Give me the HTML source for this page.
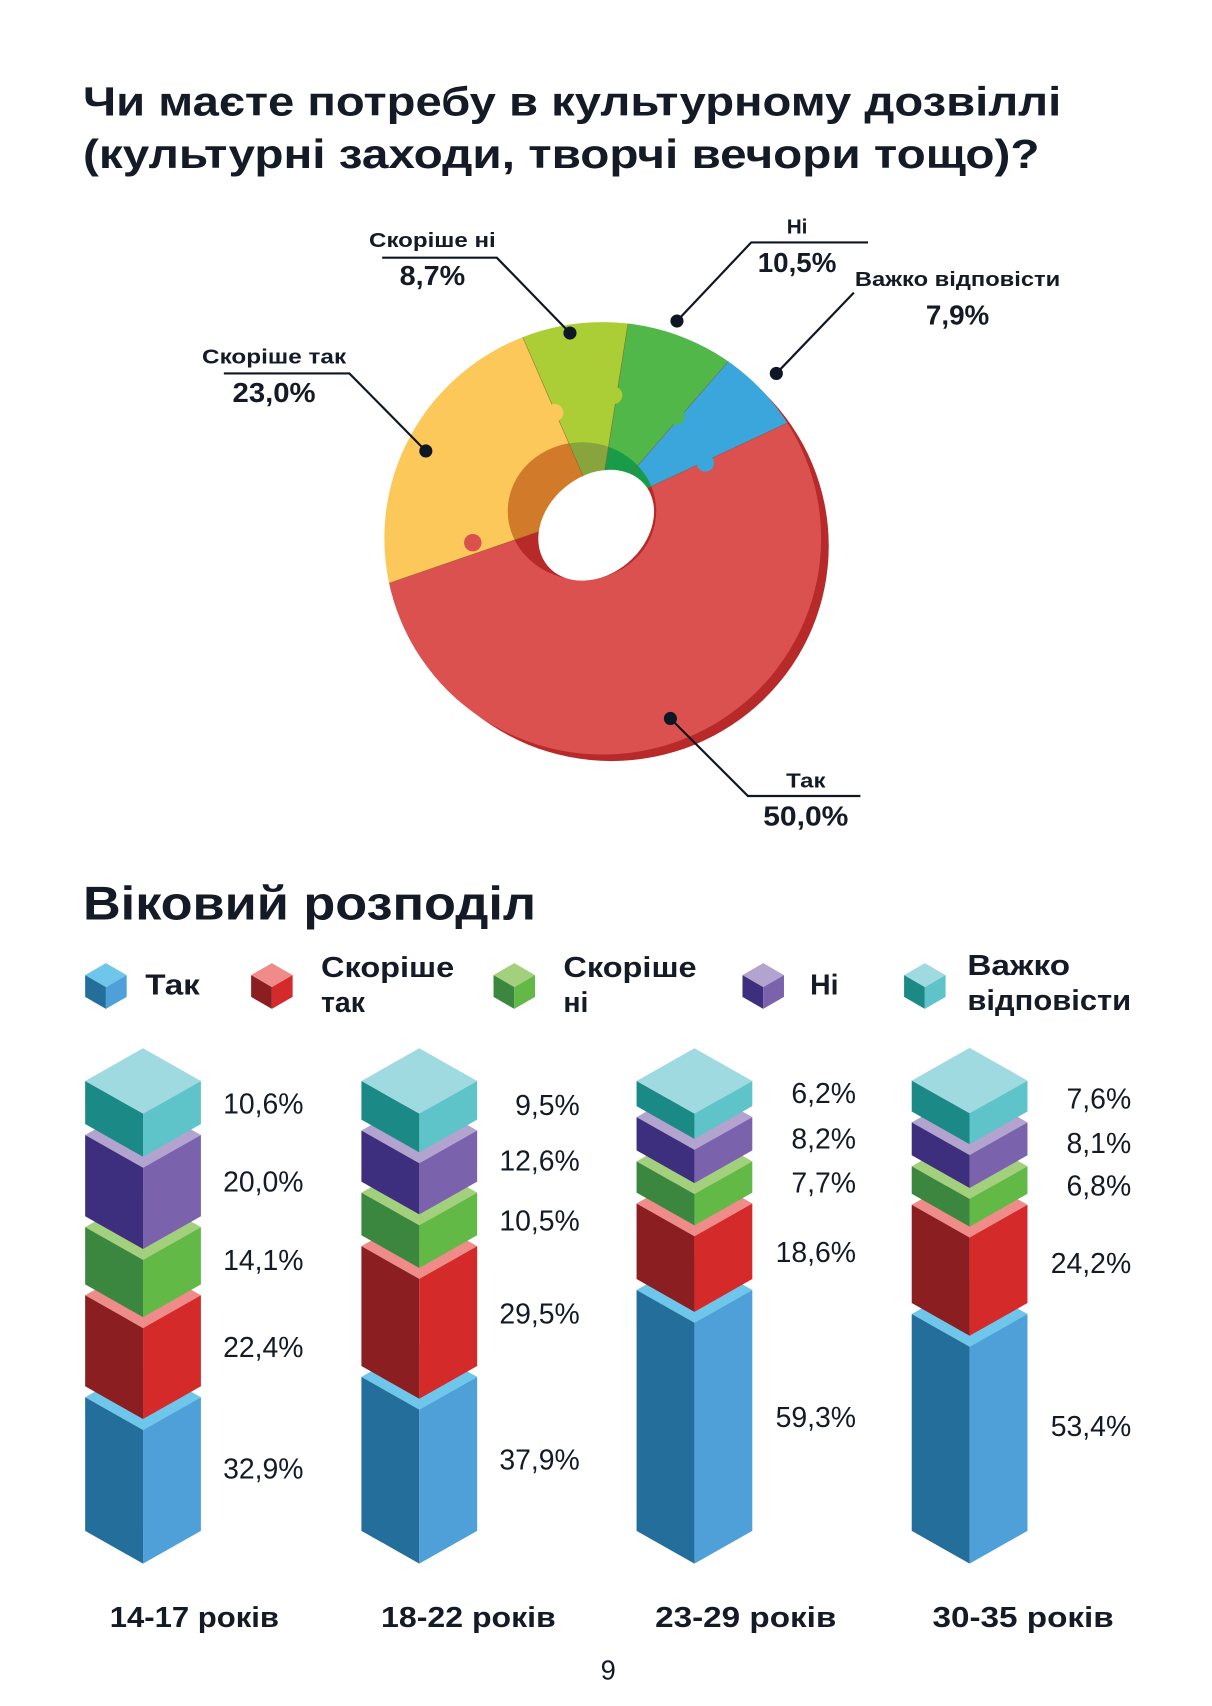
<!DOCTYPE html>
<html><head><meta charset="utf-8">
<style>
html,body{margin:0;padding:0;background:#fff;}
svg{display:block;}
.t{font-family:"Liberation Sans","DejaVu Sans",sans-serif;fill:#141a26;}
.b{font-weight:bold;}
.pl{font-size:26px;text-anchor:end;}
</style></head>
<body>
<svg id="s" width="1212" height="1706" viewBox="0 0 1110 1562.4" xmlns="http://www.w3.org/2000/svg">
<rect width="1110" height="1563" fill="#fff"/>
<text class="t b" x="76" y="106" font-size="37" textLength="896" lengthAdjust="spacingAndGlyphs">Чи маєте потребу в культурному дозвіллі</text>
<text class="t b" x="76" y="154" font-size="37" textLength="876" lengthAdjust="spacingAndGlyphs">(культурні заходи, творчі вечори тощо)?</text>

<defs>
<clipPath id="outer"><ellipse cx="552" cy="493" rx="200" ry="198"/></clipPath>
<clipPath id="wall"><ellipse cx="533" cy="468" rx="68" ry="63"/></clipPath>
</defs>
<ellipse cx="560" cy="500" rx="199" ry="197" fill="#b8292a"/>
<g clip-path="url(#outer)" id="pie"></g>
<g clip-path="url(#wall)" id="wallg"></g>
<ellipse cx="546" cy="481" rx="58" ry="45" transform="rotate(-40 546 481)" fill="#fff"/>
<g fill="#0f1624">
<circle cx="522" cy="305" r="6"/><circle cx="620" cy="294" r="6"/><circle cx="711" cy="342" r="6"/><circle cx="390" cy="413" r="6"/><circle cx="614" cy="658" r="6"/>
</g>
<g stroke="#0f1624" stroke-width="2" fill="none">
<polyline points="350,236 455,236 522,305"/>
<polyline points="795,222 688,222 620,294"/>
<polyline points="782,268 711,342"/>
<polyline points="205,342 320,342 390,413"/>
<polyline points="614,658 685,729 788,729"/>
</g>
<g class="t b" text-anchor="middle">
<text x="396" y="226" font-size="19" textLength="116" lengthAdjust="spacingAndGlyphs">Скоріше ні</text><text x="396" y="261" font-size="25" textLength="60" lengthAdjust="spacingAndGlyphs">8,7%</text>
<text x="730" y="214" font-size="19">Ні</text><text x="730" y="249" font-size="25" textLength="72" lengthAdjust="spacingAndGlyphs">10,5%</text>
<text x="877" y="262" font-size="19" textLength="188" lengthAdjust="spacingAndGlyphs">Важко відповісти</text><text x="877" y="297" font-size="25" textLength="58" lengthAdjust="spacingAndGlyphs">7,9%</text>
<text x="251" y="333" font-size="19" textLength="132" lengthAdjust="spacingAndGlyphs">Скоріше так</text><text x="251" y="368" font-size="25" textLength="76" lengthAdjust="spacingAndGlyphs">23,0%</text>
<text x="738" y="721" font-size="19" textLength="36" lengthAdjust="spacingAndGlyphs">Так</text><text x="738" y="756" font-size="25" textLength="78" lengthAdjust="spacingAndGlyphs">50,0%</text>
</g>

<text class="t b" x="76" y="842" font-size="43" textLength="415" lengthAdjust="spacingAndGlyphs">Віковий розподіл</text>
<g id="leg"></g>
<g class="t b" font-size="26">
<text x="133" y="911" textLength="50" lengthAdjust="spacingAndGlyphs">Так</text>
<text x="294" y="895" textLength="122" lengthAdjust="spacingAndGlyphs">Скоріше</text><text x="294" y="927">так</text>
<text x="516" y="895" textLength="122" lengthAdjust="spacingAndGlyphs">Скоріше</text><text x="516" y="927">ні</text>
<text x="742" y="911">Ні</text>
<text x="886" y="893" textLength="94" lengthAdjust="spacingAndGlyphs">Важко</text><text x="886" y="925" textLength="150" lengthAdjust="spacingAndGlyphs">відповісти</text>
</g>
<g id="bars"></g>
<g class="t pl">
<text x="278" y="1020">10,6%</text><text x="278" y="1091">20,0%</text><text x="278" y="1163">14,1%</text><text x="278" y="1243">22,4%</text><text x="278" y="1354">32,9%</text>
<text x="531" y="1021">9,5%</text><text x="531" y="1072">12,6%</text><text x="531" y="1127">10,5%</text><text x="531" y="1212">29,5%</text><text x="531" y="1346">37,9%</text>
<text x="784" y="1010">6,2%</text><text x="784" y="1052">8,2%</text><text x="784" y="1092">7,7%</text><text x="784" y="1156">18,6%</text><text x="784" y="1307">59,3%</text>
<text x="1036" y="1015">7,6%</text><text x="1036" y="1056">8,1%</text><text x="1036" y="1095">6,8%</text><text x="1036" y="1166">24,2%</text><text x="1036" y="1315">53,4%</text>
</g>
<g class="t b" font-size="26" text-anchor="middle">
<text x="178" y="1490" textLength="155" lengthAdjust="spacingAndGlyphs">14-17 років</text><text x="429" y="1490" textLength="160" lengthAdjust="spacingAndGlyphs">18-22 років</text><text x="683" y="1490" textLength="166" lengthAdjust="spacingAndGlyphs">23-29 років</text><text x="937" y="1490" textLength="166" lengthAdjust="spacingAndGlyphs">30-35 років</text>
</g>
<text class="t" x="557" y="1538" font-size="25" text-anchor="middle">9</text>
</svg>
<script>
var NS="http://www.w3.org/2000/svg";
function el(p,tag,a){var e=document.createElementNS(NS,tag);for(var k in a)e.setAttribute(k,a[k]);p.appendChild(e);return e;}
function wedge(g,cx,cy,r,a1,a2,fill){
 var r1=a1*Math.PI/180,r2=a2*Math.PI/180;
 var x1=cx+r*Math.cos(r1),y1=cy+r*Math.sin(r1),x2=cx+r*Math.cos(r2),y2=cy+r*Math.sin(r2);
 var large=(a2-a1)>180?1:0;
 el(g,"path",{d:"M"+cx+","+cy+" L"+x1+","+y1+" A"+r+","+r+" 0 "+large+" 1 "+x2+","+y2+" Z",fill:fill,stroke:"#8a5a2a","stroke-width":"0.6","stroke-opacity":"0.5"});
}
var pie=document.getElementById("pie"),wall=document.getElementById("wallg");
var sl=[[-25,161,"#da5150","#b8292a"],[161,246.5,"#fdc85a","#d07a2a"],[246.5,279,"#abce36","#88a53d"],[279,311,"#51b748","#1a9b4a"],[311,335,"#3aa6dc","#1a9b4a"]];
sl.forEach(function(s){wedge(pie,548,468,400,s[0],s[1],s[2]);wedge(wall,548,468,400,s[0],s[1],s[3]);});
[[433,497,"#da5150"],[508,378,"#fdc85a"],[562,362,"#abce36"],[619,381,"#51b748"],[646,424,"#3aa6dc"]].forEach(function(c){el(pie,"circle",{cx:c[0],cy:c[1],r:8,fill:c[2]});});
var C={b:["#6ec6ea","#236e9b","#4fa0d8"],r:["#ef8c8a","#8a1e20","#d42a2a"],g:["#a3d07c","#3b873f","#62b946"],p:["#b3a3cf","#3d2e7e","#7a62ac"],c:["#a0dae1","#1b8a87","#5fc4ca"]};
function block(g,x0,yt,yb,hw,dh,col){
 var w=hw*2;
 el(g,"polygon",{points:[x0,yt,x0+hw,yt-dh,x0+w,yt,x0+hw,yt+dh].join(","),fill:col[0]});
 el(g,"polygon",{points:[x0,yt,x0+hw,yt+dh,x0+hw,yb+dh,x0,yb].join(","),fill:col[1]});
 el(g,"polygon",{points:[x0+hw,yt+dh,x0+w,yt,x0+w,yb,x0+hw,yb+dh].join(","),fill:col[2]});
}
var bars=document.getElementById("bars");
var data=[[78,[32.9,22.4,14.1,20.0,10.6]],[331,[37.9,29.5,10.5,12.6,9.5]],[583,[59.3,18.6,7.7,8.2,6.2]],[835,[53.4,24.2,6.8,8.1,7.6]]];
var order=["b","r","g","p","c"];
data.forEach(function(d){
 var yb=1402;
 d[1].forEach(function(p,i){var yt=yb-p*3.72;block(bars,d[0],yt,yb,53,30,C[order[i]]);yb=yt-10;});
});
var leg=document.getElementById("leg");
[[78,"b"],[230,"r"],[452,"g"],[680,"p"],[828,"c"]].forEach(function(l){block(leg,l[0],893,913,19,11,C[l[1]]);});
</script>
</body></html>
